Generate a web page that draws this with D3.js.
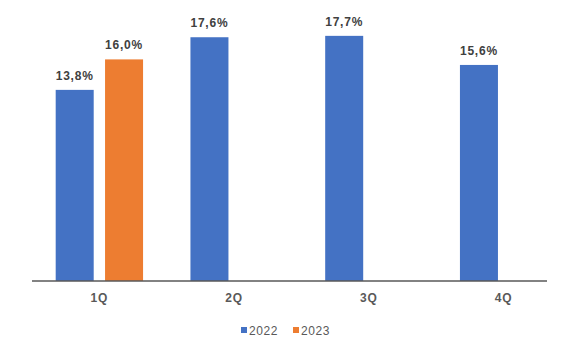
<!DOCTYPE html>
<html><head><meta charset="utf-8">
<script src="https://cdn.jsdelivr.net/npm/d3@7"></script>
<style>body{margin:0;background:#fff}svg{display:block}</style>
</head><body>
<script>
const categories = ["1Q","2Q","3Q","4Q"];
const seriesNames = ["2022","2023"];
const values2022 = [13.8, 17.6, 17.7, 15.6];
const values2023 = [16.0, null, null, null];
const labels2022 = ["13,8%","17,6%","17,7%","15,6%"];
const labels2023 = ["16,0%", null, null, null];
const colors = ["#4472C4","#ED7D31"];

const W = 577, H = 345;
const svg = d3.select("body").append("svg").attr("width",W).attr("height",H);

const x0 = d3.scaleBand().domain(categories).range([32, 571]).paddingInner(0).paddingOuter(0);
const x1 = d3.scaleBand().domain(seriesNames).range([0, x0.bandwidth()]).paddingInner(0.23).paddingOuter(0.48);
const y = d3.scaleLinear().domain([0, 20]).range([281, 4]);

const series = [
  {name:"2022", values: values2022, labels: labels2022, color: colors[0]},
  {name:"2023", values: values2023, labels: labels2023, color: colors[1]}
];

series.forEach(s => {
  const data = categories.map((c,i)=>({c, v:s.values[i], l:s.labels[i]})).filter(d=>d.v!=null);
  svg.append("g").selectAll("rect").data(data).join("rect")
    .attr("x", d=>x0(d.c)+x1(s.name))
    .attr("y", d=>y(d.v))
    .attr("width", x1.bandwidth())
    .attr("height", d=>y(0)-y(d.v))
    .attr("fill", s.color);
  svg.append("g").selectAll("text").data(data).join("text")
    .attr("x", d=>x0(d.c)+x1(s.name)+x1.bandwidth()/2)
    .attr("y", d=>y(d.v)-10)
    .attr("text-anchor","middle")
    .attr("font-family","Liberation Sans, Arial, sans-serif")
    .attr("font-weight","bold")
    .attr("font-size","12px")
    .attr("letter-spacing","0.8px")
    .attr("fill","#404040")
    .text(d=>d.l);
});

// axis
const axis = d3.axisBottom(x0).tickSize(0).tickPadding(12);
const ag = svg.append("g").attr("transform",`translate(0,${y(0)})`).call(axis);
ag.select(".domain").attr("stroke","#595959").attr("stroke-width",1.5).attr("d","M32,0H547");
ag.selectAll("text")
  .attr("font-family","Liberation Sans, Arial, sans-serif")
  .attr("font-weight","bold")
  .attr("font-size","12px")
  .attr("letter-spacing","0.8px")
  .attr("fill","#595959");

// legend
const legendItems = [{name:seriesNames[0], color:colors[0], x:241},{name:seriesNames[1], color:colors[1], x:293}];
const lg = svg.append("g");
legendItems.forEach(it=>{
  lg.append("rect").attr("x",it.x).attr("y",327).attr("width",6).attr("height",6).attr("fill",it.color);
  lg.append("text").attr("x",it.x+8).attr("y",334.5)
    .attr("font-family","Liberation Sans, Arial, sans-serif")
    .attr("font-size","12px").attr("letter-spacing","0.6px")
    .attr("fill","#595959").text(it.name);
});
</script>
</body></html>
